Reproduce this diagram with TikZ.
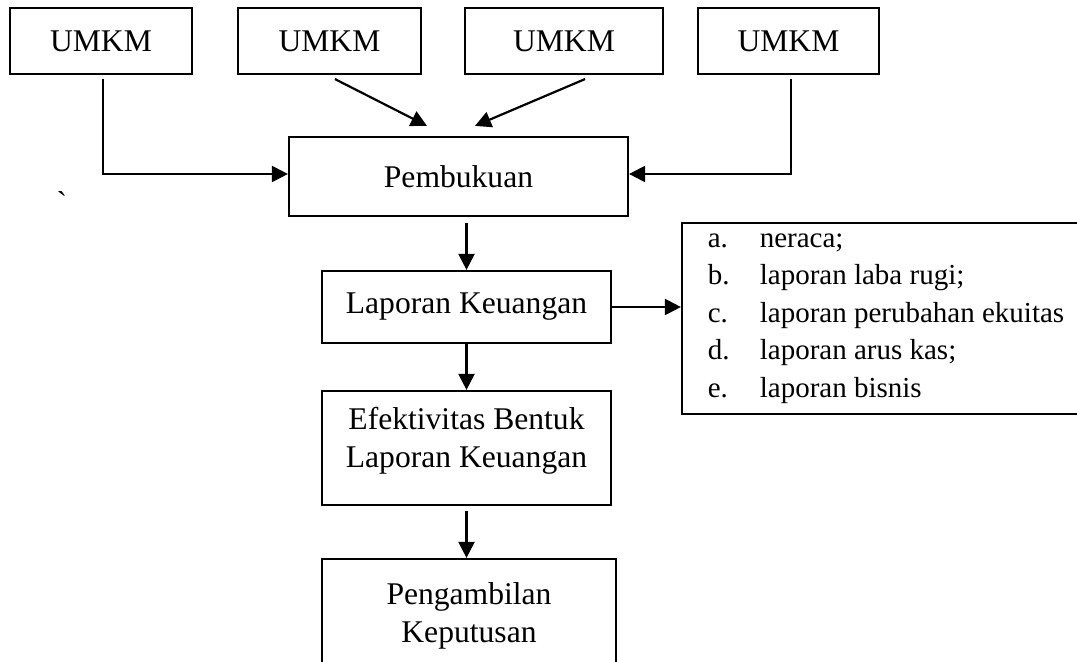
\documentclass[tikz,border=0pt]{standalone}
\usepackage{fontspec}
\setmainfont{Liberation Serif}
\usetikzlibrary{arrows.meta}

\begin{document}
\begin{tikzpicture}[x=0.5pt, y=-0.5pt,
  kotak/.style={draw, line width=1.1pt, align=center, inner sep=0pt,
    font=\fontsize{15.8}{18.75}\selectfont},
  panah/.style={line width=1.1pt, -{Triangle[length=8pt, width=8pt]}}]
  \clip (0,0) rectangle (1077,662);

  \node[kotak, minimum width=91pt, minimum height=33pt] (U1) at (101,41) {UMKM};
  \node[kotak, minimum width=91.5pt, minimum height=33pt] (U2) at (329.5,41) {UMKM};
  \node[kotak, minimum width=99pt, minimum height=33pt] (U3) at (564,41) {UMKM};
  \node[kotak, minimum width=90.5pt, minimum height=33pt] (U4) at (788.5,41) {UMKM};

  \node[kotak, minimum width=169.5pt, minimum height=39.5pt] (P) at (458.5,176.5) {Pembukuan};
  \node[kotak, minimum width=144.5pt, minimum height=36pt] (L) at (466.5,307) {Laporan Keuangan};
  \node[kotak, minimum width=144.5pt, minimum height=57pt, text depth=10.5pt] (E) at (466.5,448)
    {Efektivitas Bentuk\\Laporan Keuangan};
  \node[kotak, minimum width=147pt, minimum height=57pt] (K) at (469,616)
    {Pengambilan\\Keputusan};

  \node[kotak, align=left, minimum width=204pt, minimum height=95.5pt,
    font=\fontsize{14.5}{18.75}\selectfont] (D) at (886,318.5)
    {\makebox[26pt][l]{a.}neraca;\\
     \makebox[26pt][l]{b.}laporan laba rugi;\\
     \makebox[26pt][l]{c.}laporan perubahan ekuitas\\
     \makebox[26pt][l]{d.}laporan arus kas;\\
     \makebox[26pt][l]{e.}laporan bisnis};

  \node[font=\fontsize{15.8}{18.75}\selectfont] (T) at (62,203) {\textasciigrave};

  % UMKM ke pembukuan
  \draw[panah, shorten <=2pt] ([xshift=1pt]U1.south) |- ([yshift=1.25pt]P.west);
  \draw[panah, shorten <=2pt] ([xshift=1.25pt]U4.south) |- ([yshift=1.25pt]P.east);
  \draw[panah] ([xshift=2.75pt, yshift=-2pt]U2.south) -- ([xshift=-15.75pt, yshift=5pt]P.north);
  \draw[panah] ([xshift=10.5pt, yshift=-2pt]U3.south) -- ([xshift=8.25pt, yshift=5pt]P.north);

  \draw[panah, shorten <=3pt] (P.south -| L.north) -- (L.north);
  \draw[panah] (L.south) -- (E.north);
  \draw[panah, shorten <=2.5pt] (E.south) -- (E.south |- K.north);
  \draw[panah] (L.east) -- (L.east -| D.west);
\end{tikzpicture}
\end{document}
